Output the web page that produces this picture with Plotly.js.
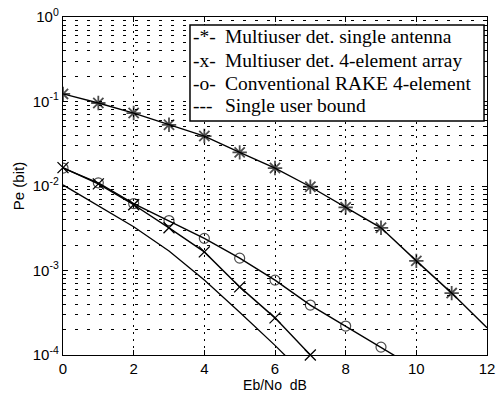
<!DOCTYPE html>
<html>
<head>
<meta charset="utf-8">
<script src="https://cdn.plot.ly/plotly-3.0.1.min.js"></script>
<style>html,body{margin:0;padding:0;background:#fff;}#chart{width:498px;height:400px;}</style>
</head>
<body>
<div id="chart"></div>
<script>
// Data
const ebnoStar = [0, 1, 2, 3, 4, 5, 6, 7, 8, 9, 10, 11, 12];
const peStar = [0.123, 0.096, 0.073, 0.053, 0.039, 0.025, 0.0163, 0.0098, 0.0056, 0.0032, 0.0013, 0.00054, 0.00021];
const ebnoX = [0, 1, 2, 3, 4, 5, 6, 7];
const peX = [0.0165, 0.0106, 0.0060, 0.0032, 0.00166, 0.00064, 0.000275, 0.0001];
const ebnoO = [0, 1, 2, 3, 4, 5, 6, 7, 8, 9, 10];
const peO = [0.0163, 0.0109, 0.0062, 0.0039, 0.0024, 0.0014, 0.00077, 0.00039, 0.00022, 0.000124, 0.000069];
const ebnoBound = [0, 1, 2, 3, 4, 5, 6, 7];
const peBound = [0.0103, 0.0058, 0.0033, 0.0017, 0.00077, 0.00032, 0.00013, 0.00005];
const seriesNames = ['Multiuser det. single antenna', 'Multiuser det. 4-element array', 'Conventional RAKE 4-element', 'Single user bound'];
const legendGlyphs = ['-*-', '-x-', '-o-', '---'];
const xTicks = [0, 2, 4, 6, 8, 10, 12];
const yTickVals = [1e-4, 1e-3, 1e-2, 1e-1, 1];
const yTickText = ['10<sup>-4</sup>', '10<sup>-3</sup>', '10<sup>-2</sup>', '10<sup>-1</sup>', '10<sup>0</sup>'];
const yMinorVals = [];
[1e-4, 1e-3, 1e-2, 1e-1].forEach(d => { for (let k = 2; k <= 9; k++) yMinorVals.push(d * k); });

const lineStyle = {color: '#000', width: 1.4};
const starSizes = ebnoStar.map((v, i) => i === ebnoStar.length - 1 ? 0 : 12);
const oSizes = ebnoO.map((v, i) => i === ebnoO.length - 1 ? 0 : 10);

const traces = [
  {x: ebnoStar, y: peStar, name: seriesNames[0], mode: 'lines+markers', line: lineStyle,
   marker: {symbol: 'asterisk-open', size: starSizes, color: '#000', line: {color: '#000', width: 1.8}}},
  {x: ebnoX, y: peX, name: seriesNames[1], mode: 'lines+markers', line: lineStyle, cliponaxis: false,
   marker: {symbol: 'x-thin-open', size: 11, color: '#000', line: {color: '#000', width: 1.3}}},
  {x: ebnoO, y: peO, name: seriesNames[2], mode: 'lines+markers', line: lineStyle,
   marker: {symbol: 'circle-open', size: oSizes, color: '#000', line: {color: '#000', width: 1.2}}},
  {x: ebnoBound, y: peBound, name: seriesNames[3], mode: 'lines', line: {color: '#000', width: 1.3}}
];

// MATLAB-style legend box: text entries as annotations over a white box
const legendFont = {family: 'Liberation Serif, Times New Roman, serif', size: 19.5, color: '#000'};
const legendRowsY = [0.941, 0.870, 0.802, 0.737];
const annotations = [];
seriesNames.forEach((name, i) => {
  annotations.push({xref: 'paper', yref: 'paper', x: 0.304, y: legendRowsY[i], xanchor: 'left', yanchor: 'middle',
    text: legendGlyphs[i], showarrow: false, font: legendFont, borderpad: 0});
  annotations.push({xref: 'paper', yref: 'paper', x: 0.380, y: legendRowsY[i], xanchor: 'left', yanchor: 'middle',
    text: name, showarrow: false, font: legendFont, borderpad: 0});
});

const layout = {
  width: 498, height: 400,
  margin: {l: 63, r: 11, t: 17, b: 45},
  paper_bgcolor: '#fff', plot_bgcolor: '#fff',
  showlegend: false,
  shapes: [{type: 'rect', xref: 'paper', yref: 'paper', x0: 0.2995, x1: 0.993, y0: 0.692, y1: 0.976,
    layer: 'above', fillcolor: '#fff', line: {color: '#000', width: 1.5}}],
  annotations: annotations,
  xaxis: {
    range: [0, 12], tickvals: xTicks, ticktext: xTicks.map(String),
    ticks: 'inside', ticklen: 5, tickcolor: '#000',
    showline: true, linecolor: '#000', linewidth: 1.2, mirror: 'ticks',
    showgrid: true, gridcolor: '#000', gridwidth: 1, griddash: '2px,5px',
    zeroline: false,
    tickfont: {family: 'Liberation Sans, Arial, sans-serif', size: 15, color: '#000'},
    title: {text: 'Eb/No  dB', font: {family: 'Liberation Sans, Arial, sans-serif', size: 14, color: '#000'}, standoff: 4}
  },
  yaxis: {
    type: 'log', range: [-4, 0],
    tickmode: 'array', tickvals: yTickVals, ticktext: yTickText,
    ticks: 'inside', ticklen: 5, tickcolor: '#000',
    showline: true, linecolor: '#000', linewidth: 1.2, mirror: 'ticks',
    showgrid: true, gridcolor: '#000', gridwidth: 1, griddash: '3px,9px',
    zeroline: false,
    minor: {tickmode: 'array', tickvals: yMinorVals, ticks: 'inside', ticklen: 3, tickcolor: '#000',
      showgrid: true, gridcolor: '#000', gridwidth: 1, griddash: '3px,9px'},
    tickfont: {family: 'Liberation Sans, Arial, sans-serif', size: 15, color: '#000'},
    title: {text: 'Pe (bit)', font: {family: 'Liberation Sans, Arial, sans-serif', size: 15, color: '#000'}, standoff: 4}
  }
};

Plotly.newPlot('chart', traces, layout, {staticPlot: true, displayModeBar: false});
</script>
</body>
</html>
